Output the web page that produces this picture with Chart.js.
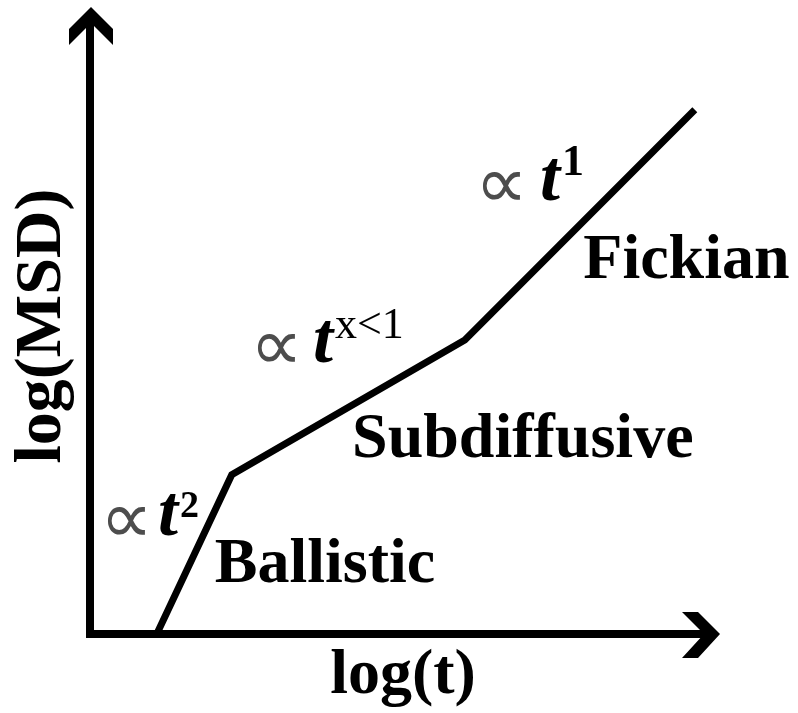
<!DOCTYPE html>
<html lang="en">
	<head>
		<meta charset="UTF-8" />
		<title>MSD regimes</title>
		<style>
			body { margin: 0; background: #fff; }
			#wrap { width: 798px; height: 713px; }
		</style>
	</head>
	<body>
		<div id="wrap"><canvas id="msdChart"></canvas></div>

		<script src="https://cdn.jsdelivr.net/npm/chart.js@4/dist/chart.umd.min.js"></script>
		<script>
			// log(t) / log(MSD) break points of the sketch curve
			var logT = [1.06, 2.25, 5.95, 9.6];
			var logMSD = [0, 2.54, 4.69, 8.36];

			var regimes = ["Ballistic", "Subdiffusive", "Fickian"];
			var exponents = ["2", "x<1", "1"];

			var serif = '"Liberation Serif", "Times New Roman", serif';

			// where each regime name and its power law sit (in axis units)
			var regimeSpots = [
				{ x: 1.98, y: 0.83 },
				{ x: 4.16, y: 2.82 },
				{ x: 7.83, y: 5.68 },
			];
			var powerSpots = [
				{ x: 0.16, y: 1.58, gap: 58, sup: 18, supSize: 38 },
				{ x: 2.54, y: 4.34, gap: 63, sup: 24, supSize: 44 },
				{ x: 6.11, y: 6.92, gap: 65, sup: 25, supSize: 44 },
			];

			var sketch = {
				id: "sketch",
				afterDraw: function (chart) {
					var ctx = chart.ctx;
					var a = chart.chartArea;
					var xs = chart.scales.x;
					var ys = chart.scales.y;
					var x0 = a.left, y0 = a.bottom;

					ctx.save();
					ctx.fillStyle = "#000";
					ctx.strokeStyle = "#000";
					ctx.lineWidth = 8;
					ctx.lineCap = "butt";

					// axes
					ctx.beginPath();
					ctx.moveTo(x0, y0 + 4);
					ctx.lineTo(x0, a.top + 12);
					ctx.moveTo(x0 - 4, y0);
					ctx.lineTo(a.right - 12, y0);
					ctx.stroke();

					// chevron arrow heads
					ctx.beginPath();
					ctx.moveTo(x0 + 1, a.top);
					ctx.lineTo(x0 + 23, a.top + 22);
					ctx.lineTo(x0 + 23, a.top + 38);
					ctx.lineTo(x0 + 1, a.top + 16);
					ctx.lineTo(x0 - 21, a.top + 38);
					ctx.lineTo(x0 - 21, a.top + 22);
					ctx.closePath();
					ctx.fill();

					ctx.beginPath();
					ctx.moveTo(a.right, y0);
					ctx.lineTo(a.right - 22, y0 - 22);
					ctx.lineTo(a.right - 38, y0 - 22);
					ctx.lineTo(a.right - 16, y0);
					ctx.lineTo(a.right - 38, y0 + 24);
					ctx.lineTo(a.right - 22, y0 + 24);
					ctx.closePath();
					ctx.fill();

					// axis titles
					ctx.font = "bold 64px " + serif;
					ctx.textAlign = "center";
					ctx.textBaseline = "alphabetic";
					ctx.fillText("log(t)", (x0 + a.right) / 2 - 2, 693);

					ctx.save();
					ctx.translate(60, 326);
					ctx.rotate(-Math.PI / 2);
					ctx.font = "bold 66px " + serif;
					ctx.fillText("log(MSD)", 0, 0);
					ctx.restore();

					// regime names
					ctx.textAlign = "left";
					ctx.font = "bold 64px " + serif;
					regimes.forEach(function (name, i) {
						var p = regimeSpots[i];
						ctx.fillText(name, xs.getPixelForValue(p.x), ys.getPixelForValue(p.y));
					});

					// power laws: ∝ t^n
					exponents.forEach(function (ex, i) {
						var p = powerSpots[i];
						var px = xs.getPixelForValue(p.x);
						var py = ys.getPixelForValue(p.y);

						ctx.fillStyle = "#4d4d4d";
						ctx.font = "74px 'DejaVu Sans', sans-serif";
						ctx.fillText("\u221D", px, py + 8);

						ctx.fillStyle = "#000";
						ctx.font = "italic bold 72px " + serif;
						var tx = px + p.gap;
						ctx.fillText("t", tx, py);
						var tw = ctx.measureText("t").width;

						ctx.font = (i === 1 ? "" : "bold ") + p.supSize + "px " + serif;
						ctx.fillText(ex, tx + tw + 2, py - p.sup);
					});

					ctx.restore();
				},
			};

			var points = logT.map(function (t, i) {
				return { x: t, y: logMSD[i] };
			});

			new Chart(document.getElementById("msdChart"), {
				type: "scatter",
				data: {
					datasets: [
						{
							data: points,
							showLine: true,
							borderColor: "#000",
							borderWidth: 7,
							borderJoinStyle: "miter",
							borderCapStyle: "butt",
							pointRadius: 0,
							tension: 0,
						},
					],
				},
				options: {
					responsive: true,
					maintainAspectRatio: false,
					animation: false,
					layout: { padding: { left: 90, right: 78, top: 7, bottom: 79 } },
					plugins: {
						legend: { display: false },
						tooltip: { enabled: false },
					},
					scales: {
						x: { type: "linear", min: 0, max: 10, display: false },
						y: { type: "linear", min: 0, max: 10, display: false },
					},
				},
				plugins: [sketch],
			});
		</script>
	</body>
</html>
